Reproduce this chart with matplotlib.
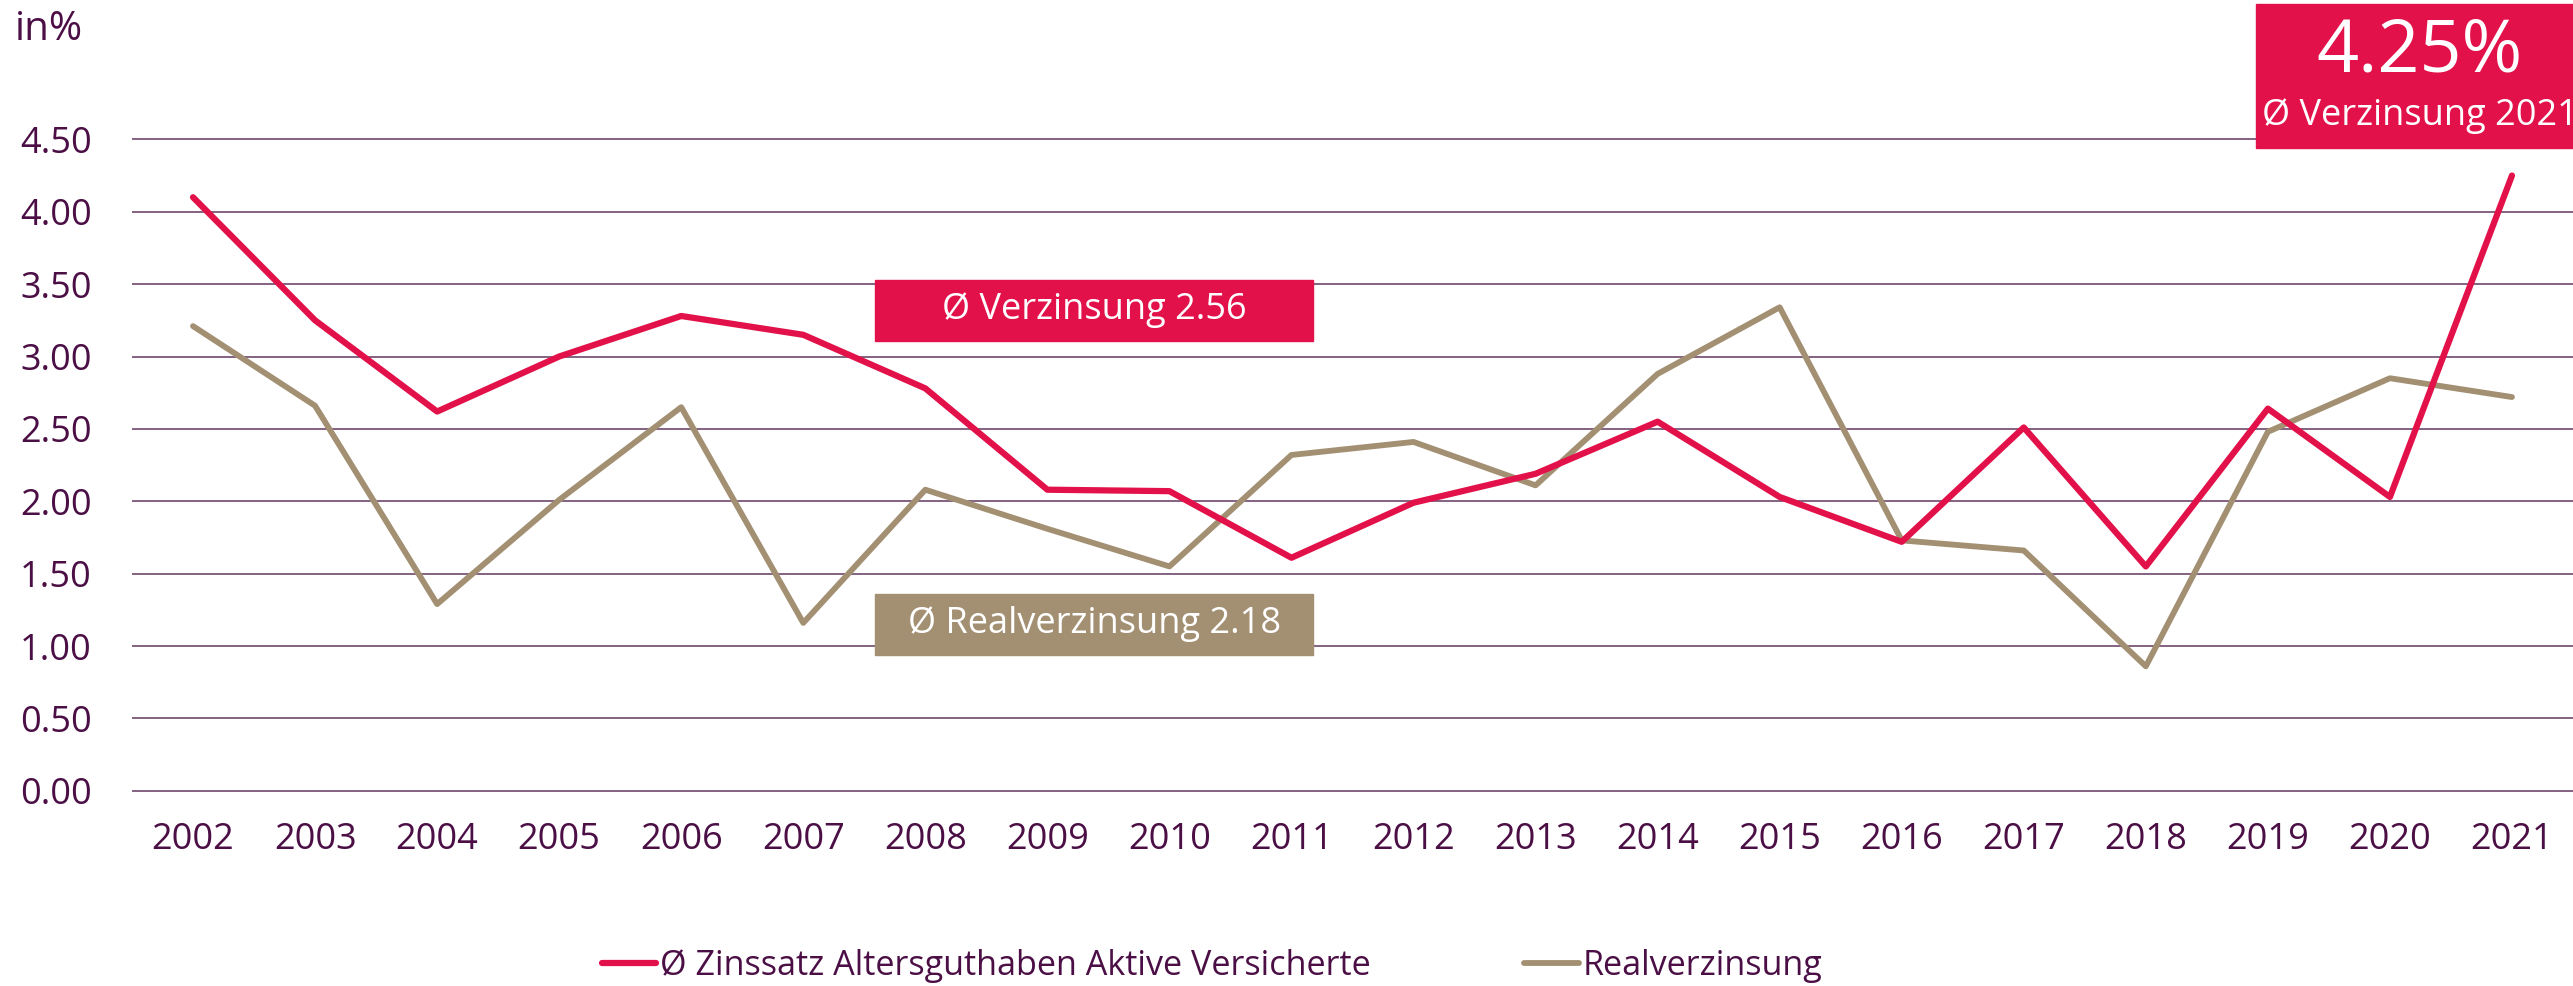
import matplotlib
matplotlib.use('Agg')
import matplotlib.pyplot as plt
from matplotlib.patches import Rectangle

years = ['2002', '2003', '2004', '2005', '2006', '2007', '2008', '2009', '2010', '2011',
         '2012', '2013', '2014', '2015', '2016', '2017', '2018', '2019', '2020', '2021']
zinssatz = [4.10, 3.25, 2.62, 3.00, 3.28, 3.15, 2.78, 2.08, 2.07, 1.61,
            1.99, 2.19, 2.55, 2.03, 1.72, 2.51, 1.55, 2.64, 2.03, 4.25]
real = [3.21, 2.66, 1.29, 2.01, 2.65, 1.16, 2.08, 1.81, 1.55, 2.32,
        2.41, 2.11, 2.88, 3.34, 1.73, 1.66, 0.86, 2.48, 2.85, 2.72]
yticks = [0, 0.5, 1, 1.5, 2, 2.5, 3, 3.5, 4, 4.5]

RED = '#e2114a'
GOLD = '#a39073'
TXT = '#4b0f45'
GRID = '#7a5578'

plt.rcParams['font.family'] = ['Open Sans', 'DejaVu Sans']

fig = plt.figure(figsize=(25.73, 9.86), dpi=100)
ax = fig.add_axes([132 / 2573, 0.1906, 1 - 132 / 2573, 0.6754])

x = list(range(len(years)))
ax.plot(x, zinssatz, color=RED, lw=4.5, solid_capstyle='round', zorder=3,
        label='Ø Zinssatz Altersguthaben Aktive Versicherte')
ax.plot(x, real, color=GOLD, lw=4.2, solid_capstyle='round', zorder=2,
        label='Realverzinsung')

ax.set_xlim(-0.5, len(years) - 0.5)
ax.set_ylim(-0.05, 4.55)
ax.set_yticks(yticks)
ax.set_yticklabels([f'{v:.2f}' for v in yticks])
ax.set_xticks(x)
ax.set_xticklabels(years)
ax.tick_params(axis='y', length=0, pad=29, labelsize=26, labelcolor=TXT)
ax.tick_params(axis='x', length=0, pad=17, labelsize=26, labelcolor=TXT)
for s in ax.spines.values():
    s.set_visible(False)
ax.yaxis.grid(True, color=GRID, lw=1.3)
ax.set_axisbelow(True)

# average boxes
ax.add_patch(Rectangle((5.59, 3.11), 3.59, 0.42, color=RED, zorder=4))
ax.text(7.385, 3.32, 'Ø Verzinsung 2.56', color='white', fontsize=26,
        ha='center', va='center', zorder=5)
ax.add_patch(Rectangle((5.59, 0.94), 3.59, 0.42, color=GOLD, zorder=4))
ax.text(7.385, 1.15, 'Ø Realverzinsung 2.18', color='white', fontsize=26,
        ha='center', va='center', zorder=5)

# highlight box top right
fig.patches.append(Rectangle((2256 / 2573, 1 - 148 / 986), 1, 144 / 986,
                             color=RED, transform=fig.transFigure, figure=fig))
fig.text(2420 / 2573, 1 - 52 / 986, '4.25%', color='white', fontsize=53,
         ha='center', va='center')
fig.text(2420 / 2573, 1 - 116 / 986, 'Ø Verzinsung 2021', color='white', fontsize=26,
         ha='center', va='center')

fig.text(15 / 2573, 1 - 30 / 986, 'in%', color=TXT, fontsize=29, ha='left', va='center')

fig.legend(loc='center', bbox_to_anchor=(0.471, 1 - 966 / 986), ncol=2, frameon=False,
           fontsize=24.6, handlelength=1.6, handletextpad=0.1, columnspacing=4.5,
           labelcolor=TXT)

fig.savefig('out.png', dpi=100)
